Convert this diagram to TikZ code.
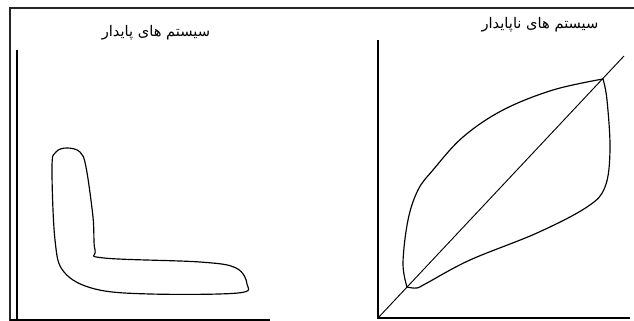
\documentclass[tikz,border=0pt]{standalone}
\usepackage{fontspec}
\newfontfamily\persianfont[Script=Arabic]{DejaVu Sans}
\TeXXeTstate=1
\usetikzlibrary{positioning}
\tikzset{
	frameline/.style={line width=1.4pt, black!85},
	axisline/.style={line width=1.3pt, black},
	curveline/.style={line width=1pt, black, line join=round},
	titlelabel/.style={inner sep=0pt, font=\persianfont\fontsize{12.5}{14}\selectfont}
}

\begin{document}
\begin{tikzpicture}[x=0.03cm, y=-0.03cm]
				\useasboundingbox (0,0) rectangle (634,321);
				% outer frame
				\draw[frameline] (10,321) -- (10,8) -- (634,8);
				% stable system
				\coordinate (sO) at (17,320);
				\coordinate (sY) at (17,50);
				\coordinate (sX) at (270,320);
				\draw[axisline] (sY) -- (sO);
				\draw[axisline] (10,320) -- (sX);
				\node[titlelabel] (stable) at (156,33) {\beginR سیستم های پایدار\endR};
				\draw[curveline] plot[smooth cycle, tension=0.6] coordinates {
					(67,148) (80,152) (86,167) (93,217) (95,250) (104,258)
					(200,262) (236,268) (247,284) (238,293) (150,294)
					(95,289) (64,272) (55,240) (52,167) (56,152)};
				% unstable system
				\coordinate (uO) at (378,318);
				\coordinate (uY) at (378,40);
				\coordinate (uX) at (630,318);
				\coordinate (uD) at (624,56);
				\coordinate (low) at (407,287);
				\coordinate (high) at (603,79);
				\draw[axisline] (uY) -- (uO) -- (uX);
				\draw[curveline, line width=0.8pt] (uO) -- (uD);
				\node[titlelabel] (unstable) at (540,25) {\beginR سیستم های ناپایدار\endR};
				\draw[curveline] plot[smooth, tension=0.6] coordinates {
					(low) (403,263) (408,220) (418,190) (433,170) (463,137)
					(503,110) (553,90) (high)};
				\draw[curveline] plot[smooth, tension=0.6] coordinates {
					(high) (607,100) (610,150) (605,187) (587,207) (537,233)
					(470,260) (427,283) (417,288) (low)};
			\end{tikzpicture}
\end{document}
